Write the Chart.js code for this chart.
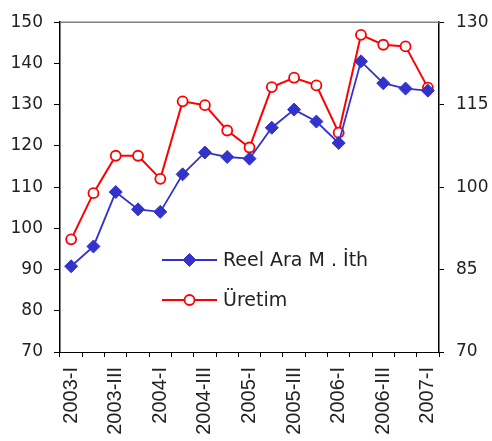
<!DOCTYPE html>
<html>
<head>
<meta charset="utf-8">
<script src="https://cdn.jsdelivr.net/npm/chart.js@4/dist/chart.umd.min.js"></script>
<style>
  html, body { margin: 0; padding: 0; background: #fff; }
  #wrap { width: 492px; height: 441px; position: relative; }
</style>
</head>
<body>
<div id="wrap"><canvas id="c" width="492" height="441"></canvas></div>
<script>
const categories = ['2003-I','2003-II','2003-III','2003-IV','2004-I','2004-II','2004-III','2004-IV',
  '2005-I','2005-II','2005-III','2005-IV','2006-I','2006-II','2006-III','2006-IV','2007-I'];
const reelAraIth = [90.8,95.6,108.8,104.6,104.0,113.1,118.4,117.3,116.9,124.4,128.8,125.9,120.7,140.5,135.2,133.9,133.4];
const uretim = [90.5,98.9,105.7,105.7,101.5,115.6,114.9,110.3,107.2,118.2,119.9,118.5,109.9,127.7,125.9,125.6,118.1];
const seriesNames = ['Reel Ara M . \u0130th', '\u00dcretim'];
const leftTicks = { min: 70, max: 150, step: 10 };
const rightTicks = { min: 70, max: 130, step: 15 };

const BLUE = '#3333CC';
const RED = '#FF0000';
const TICKFONT = { family: 'DejaVu Sans', size: 17 };

const customLegend = {
  id: 'customLegend',
  afterDraw(chart) {
    const ctx = chart.ctx;
    const ca = chart.chartArea;
    ctx.save();
    // grey top border of the plot area
    ctx.strokeStyle = '#808080';
    ctx.lineWidth = 1.5;
    ctx.beginPath();
    ctx.moveTo(ca.left, ca.top);
    ctx.lineTo(ca.right, ca.top);
    ctx.stroke();
    // legend inside the plot area
    const ys = [260, 300];
    const x0 = 162, x1 = 217;
    chart.data.datasets.forEach((ds, i) => {
      const y = ys[i];
      ctx.strokeStyle = ds.borderColor;
      ctx.lineWidth = ds.borderWidth;
      ctx.beginPath();
      ctx.moveTo(x0, y);
      ctx.lineTo(x1, y);
      ctx.stroke();
      ctx.fillStyle = ds.pointBackgroundColor;
      ctx.strokeStyle = ds.pointBorderColor;
      ctx.lineWidth = ds.pointBorderWidth;
      Chart.helpers.drawPoint(ctx, {
        pointStyle: ds.pointStyle,
        radius: ds.pointRadius,
        borderWidth: ds.pointBorderWidth,
        rotation: 0
      }, (x0 + x1) / 2, y);
      ctx.fillStyle = '#222';
      ctx.font = '19px "DejaVu Sans"';
      ctx.textBaseline = 'middle';
      ctx.textAlign = 'left';
      ctx.fillText(ds.label, 223, y + 1);
    });
    ctx.restore();
  }
};

new Chart(document.getElementById('c'), {
  type: 'line',
  data: {
    labels: categories,
    datasets: [
      {
        label: seriesNames[0],
        data: reelAraIth,
        yAxisID: 'y',
        borderColor: BLUE,
        borderWidth: 1.8,
        pointStyle: 'rectRot',
        pointRadius: 6.5,
        pointBackgroundColor: BLUE,
        pointBorderColor: BLUE,
        pointBorderWidth: 1,
        tension: 0
      },
      {
        label: seriesNames[1],
        data: uretim,
        yAxisID: 'y1',
        borderColor: RED,
        borderWidth: 2,
        pointStyle: 'circle',
        pointRadius: 5,
        pointBackgroundColor: '#FFFFFF',
        pointBorderColor: RED,
        pointBorderWidth: 1.8,
        tension: 0
      }
    ]
  },
  options: {
    responsive: false,
    animation: false,
    devicePixelRatio: 1,
    layout: { padding: { top: 14, left: 0, right: 0, bottom: 0 } },
    plugins: { legend: { display: false }, tooltip: { enabled: false } },
    scales: {
      x: {
        type: 'category',
        offset: true,
        afterFit(scale) { scale.height = 89; },
        border: { display: true, color: '#000', width: 1 },
        grid: { display: true, offset: true, drawOnChartArea: false, drawTicks: true, tickLength: 5, color: '#000' },
        ticks: {
          autoSkip: false,
          minRotation: 90,
          maxRotation: 90,
          padding: 10,
          color: '#222',
          font: { family: 'Liberation Sans', size: 20 },
          callback(val, idx) { return idx % 2 === 0 ? this.getLabelForValue(val) : ''; }
        }
      },
      y: {
        position: 'left',
        min: leftTicks.min,
        max: leftTicks.max,
        afterFit(scale) { scale.width = 60; },
        border: { display: true, color: '#000', width: 1.5 },
        grid: { display: true, drawOnChartArea: false, drawTicks: true, tickLength: 6, color: '#000' },
        ticks: { stepSize: leftTicks.step, padding: 11, color: '#222', font: TICKFONT }
      },
      y1: {
        position: 'right',
        min: rightTicks.min,
        max: rightTicks.max,
        afterFit(scale) { scale.width = 53; },
        border: { display: true, color: '#000', width: 1.5 },
        grid: { display: true, drawOnChartArea: false, drawTicks: true, tickLength: 5, color: '#000' },
        ticks: { stepSize: rightTicks.step, padding: 12, color: '#222', font: TICKFONT }
      }
    }
  },
  plugins: [customLegend]
});
</script>
</body>
</html>
